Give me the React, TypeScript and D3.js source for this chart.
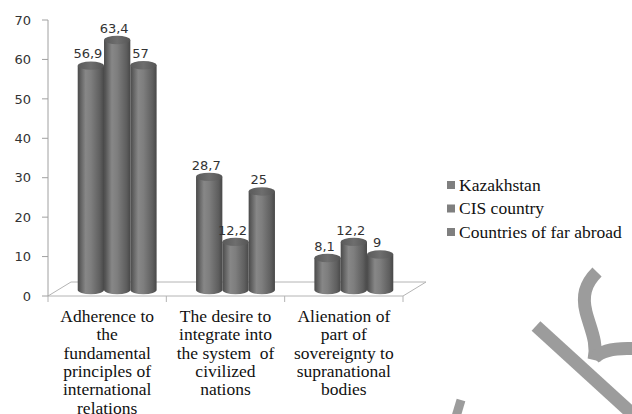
import React from "react";
import * as d3 from "d3";

const categories = [
  ["Adherence to", "the", "fundamental", "principles of", "international", "relations"],
  ["The desire to", "integrate into", "the system  of", "civilized", "nations"],
  ["Alienation of", "part of", "sovereignty to", "supranational", "bodies"],
];
const seriesNames = ["Kazakhstan", "CIS country", "Countries of far abroad"];
const kazakhstan = [56.9, 28.7, 8.1];
const cis = [63.4, 12.2, 12.2];
const farAbroad = [57, 25, 9];
const valueLabels = [
  ["56,9", "28,7", "8,1"],
  ["63,4", "12,2", "12,2"],
  ["57", "25", "9"],
];
const yTicks = [0, 10, 20, 30, 40, 50, 60, 70];

const W = 632;
const H = 414;
const left = 48;
const right = 403;
const top = 20;
const bottom = 296;
// floor depth (back-wall offset) and the plane the cylinders stand on
const depthX = 23;
const depthY = -14;
const barDX = 10;
const barDY = -6;
const serif = "'Liberation Serif', 'DejaVu Serif', serif";

export default function App() {
  const series = [kazakhstan, cis, farAbroad];
  const catIdx = categories.map((_, i) => String(i));
  const x = d3.scaleBand<string>().domain(catIdx).range([left, right]);
  const y = d3.scaleLinear().domain([0, 70]).range([bottom, top]);
  const barW = 26.3;
  const inner = d3
    .scaleBand<string>()
    .domain(seriesNames)
    .range([0, barW * 3]);
  const rx = barW / 2;
  const ry = 4.2;

  const bars: React.ReactNode[] = [];
  const labels: React.ReactNode[] = [];
  catIdx.forEach((c, ci) => {
    const center = (x(c) as number) + x.bandwidth() / 2 + barDX;
    const start = center - (barW * 3) / 2;
    seriesNames.forEach((s, si) => {
      const v = series[si][ci];
      const bx = start + (inner(s) as number);
      const yBase = y(0) + barDY;
      const yTop = y(v) + barDY;
      const body = `M${bx},${yTop} L${bx},${yBase} A${rx},${ry} 0 0 0 ${bx + barW},${yBase} L${bx + barW},${yTop} Z`;
      bars.push(
        <g key={`b${ci}-${si}`}>
          <path d={body} fill="url(#cyl)" />
          <ellipse cx={bx + rx} cy={yTop} rx={rx} ry={ry} fill="url(#cap)" />
        </g>
      );
      labels.push(
        <text
          key={`l${ci}-${si}`}
          x={bx + rx - 3}
          y={yTop - ry - 3}
          textAnchor="middle"
          fontFamily="DejaVu Sans"
          fontSize={13}
          fill="#333"
        >
          {valueLabels[si][ci]}
        </text>
      );
    });
  });

  const boundaries = [left, ...catIdx.map((c) => (x(c) as number) + x.bandwidth())];

  return (
    <svg
      width={W}
      height={H}
      style={{ position: "absolute", left: 0, top: 0, background: "#fff" }}
    >
      <defs>
        <linearGradient id="cyl" x1="0" x2="1" y1="0" y2="0">
          <stop offset="0" stopColor="#4a4a4a" />
          <stop offset="0.3" stopColor="#878787" />
          <stop offset="0.5" stopColor="#7e7e7e" />
          <stop offset="0.85" stopColor="#5e5e5e" />
          <stop offset="1" stopColor="#484848" />
        </linearGradient>
        <linearGradient id="cap" x1="0" x2="1" y1="0" y2="0">
          <stop offset="0" stopColor="#5a5a5a" />
          <stop offset="0.5" stopColor="#6e6e6e" />
          <stop offset="1" stopColor="#555" />
        </linearGradient>
      </defs>

      {/* floor */}
      <g stroke="#b4b4b4" strokeWidth={1} fill="none">
        <line x1={left} y1={bottom} x2={right} y2={bottom} />
        <line x1={left + depthX} y1={bottom + depthY} x2={right + depthX} y2={bottom + depthY} />
        <line x1={left} y1={bottom} x2={left + depthX} y2={bottom + depthY} />
        <line x1={right} y1={bottom} x2={right + depthX} y2={bottom + depthY} />
        {boundaries.map((b, i) => (
          <line key={i} x1={b} y1={bottom} x2={b} y2={bottom + 6} />
        ))}
      </g>

      {/* value axis */}
      <g>
        <line x1={left} y1={top} x2={left} y2={bottom} stroke="#a0a0a0" />
        {yTicks.map((t) => (
          <g key={t}>
            <line x1={left - 6} y1={y(t)} x2={left} y2={y(t)} stroke="#a0a0a0" />
            <text
              x={31}
              y={y(t)}
              dy="0.36em"
              textAnchor="end"
              fontFamily="DejaVu Sans"
              fontSize={13}
              fill="#333"
            >
              {t}
            </text>
          </g>
        ))}
      </g>

      {bars}
      {labels}

      {/* category labels */}
      {catIdx.map((c, ci) => (
        <text
          key={c}
          x={(x(c) as number) + x.bandwidth() / 2}
          y={322}
          textAnchor="middle"
          style={{ fontFamily: serif, fontSize: "17.5px", whiteSpace: "pre" }}
          fill="#111"
        >
          {categories[ci].map((line, li) => (
            <tspan key={li} x={(x(c) as number) + x.bandwidth() / 2} y={322 + li * 18.3}>
              {line}
            </tspan>
          ))}
        </text>
      ))}

      {/* legend */}
      {seriesNames.map((s, i) => (
        <g key={s} transform={`translate(447, ${185 + i * 23.5})`}>
          <rect x={0} y={-4} width={8} height={8} fill="#7f7f7f" />
          <text
            x={12}
            y={0}
            dy="0.33em"
            style={{ fontFamily: serif, fontSize: "17.5px" }}
            fill="#111"
          >
            {s}
          </text>
        </g>
      ))}

      {/* watermark strokes */}
      <g fill="none" stroke="#9c9c9c" strokeWidth={13}>
        <path d="M536,326 L650,430" />
        <path d="M597,272 C585,284 582,296 586,312 C590,328 598,342 594,360" />
        <path d="M594,358 Q606,346 640,349" />
        <path d="M461,400 L455,420" strokeWidth={9} />
      </g>
    </svg>
  );
}
